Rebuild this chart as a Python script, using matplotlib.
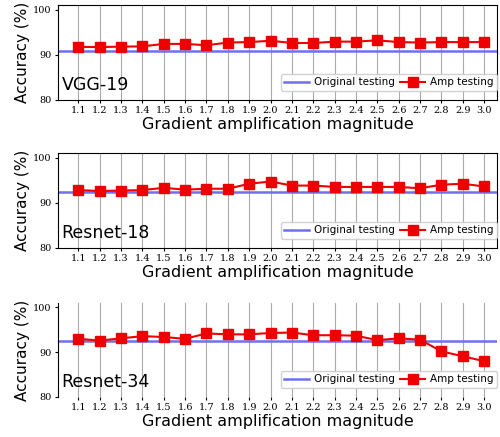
import matplotlib
matplotlib.use("Agg")
import matplotlib.pyplot as plt
import numpy as np

magnitudes = [1.1, 1.2, 1.3, 1.4, 1.5, 1.6, 1.7, 1.8, 1.9, 2.0,
              2.1, 2.2, 2.3, 2.4, 2.5, 2.6, 2.7, 2.8, 2.9, 3.0]
tick_labels = [f"{m:.1f}" for m in magnitudes]

models = ["VGG-19", "Resnet-18", "Resnet-34"]
original = [90.85, 92.4, 92.6]
amp_vgg19 = [91.75, 91.7, 91.8, 91.85, 92.4, 92.4, 92.1, 92.7, 92.8, 93.1,
             92.6, 92.6, 92.9, 92.9, 93.2, 92.8, 92.7, 92.8, 92.8, 92.8]
amp_resnet18 = [92.8, 92.6, 92.7, 92.8, 93.3, 92.9, 93.1, 93.1, 94.2, 94.7,
                93.8, 93.8, 93.5, 93.5, 93.5, 93.5, 93.2, 94.0, 94.2, 93.6]
amp_resnet34 = [93.0, 92.6, 93.1, 93.6, 93.4, 93.0, 94.2, 94.0, 94.0, 94.3,
                94.4, 93.8, 93.8, 93.7, 92.7, 93.1, 92.8, 90.2, 89.1, 88.0]
amp_values = [amp_vgg19, amp_resnet18, amp_resnet34]

W, H = 500, 437
fig = plt.figure(figsize=(W/100, H/100), dpi=100)

# pixel boxes (top, bottom) of each panel
panels = [(5, 100), (153, 248), (303, 397)]
left_px, right_px = 58, 497

for i, (name, orig, amp) in enumerate(zip(models, original, amp_values)):
  top, bot = panels[i]
  ax = fig.add_axes([left_px/W, (H-bot)/H, (right_px-left_px)/W, (bot-top)/H])
  ax.axhline(orig, color="#6f6ff0", lw=1.8, label="Original testing", zorder=2)
  ax.plot(magnitudes, amp, color="#ee0000", marker="s", ms=6.5, lw=1.5,
          label="Amp testing", zorder=3)
  ax.set_xlim(1.005, 3.06)
  ax.set_ylim(80, 101)
  ax.set_yticks([80, 90, 100])
  ax.set_xticks(magnitudes)
  ax.set_xticklabels(tick_labels, fontsize=7, family="DejaVu Serif")
  for lbl in ax.get_yticklabels():
    lbl.set_fontsize(7)
    lbl.set_family("DejaVu Serif")
  ax.tick_params(axis="both", length=2.5, width=0.8, pad=2)
  ax.grid(axis="x", color="#aaaaaa", lw=0.8)
  ax.set_axisbelow(True)
  ax.set_xlabel("Gradient amplification magnitude", fontsize=11.5, labelpad=1)
  ax.set_ylabel("Accuracy (%)", fontsize=11, labelpad=2)
  ax.text(0.008, 0.06, name, transform=ax.transAxes, fontsize=12.5,
          ha="left", va="bottom")
  ax.legend(loc="lower right", bbox_to_anchor=(1.0, 0.1), ncol=2,
            fontsize=7.5, frameon=True, borderpad=0.3, handlelength=2.4,
            columnspacing=0.5, handletextpad=0.5, borderaxespad=0.0,
            fancybox=True, framealpha=0.9)
  if i == 2:
    for s in ["top", "right", "bottom"]:
      ax.spines[s].set_visible(False)

fig.savefig("out.png", dpi=100)
